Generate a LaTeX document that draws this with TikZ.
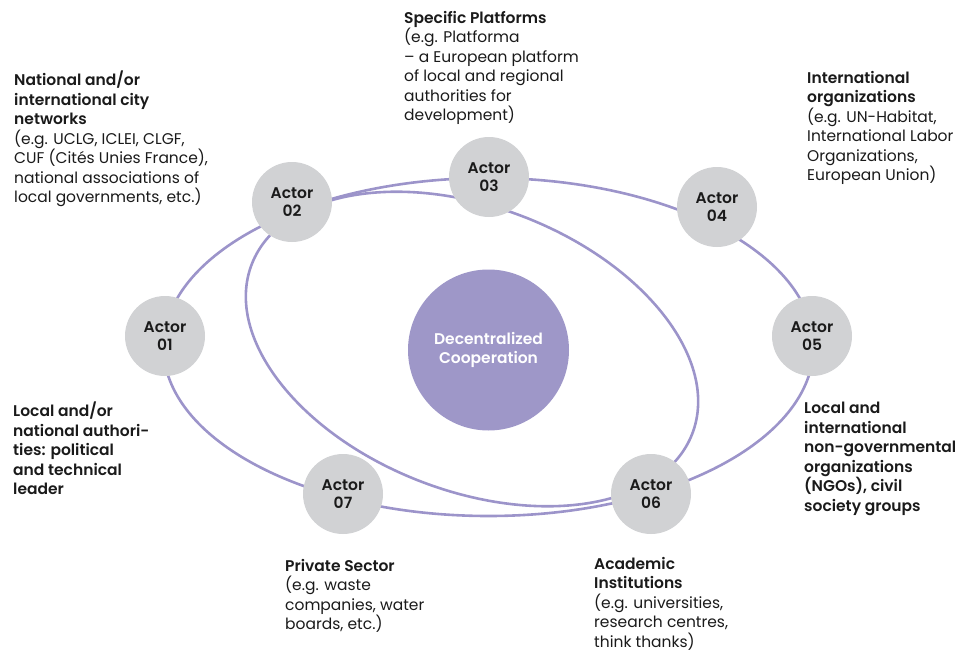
\documentclass[tikz,border=0pt]{standalone}
\usepackage{fontspec}
\setmainfont{Poppins}[BoldFont={Poppins SemiBold}]
\definecolor{lav}{RGB}{156,148,202}
\definecolor{lavfill}{RGB}{158,151,200}
\definecolor{actgray}{RGB}{209,210,212}
\definecolor{ink}{RGB}{26,26,26}
\newcommand\hdr[1]{{\bfseries #1}}
\begin{document}
\begin{tikzpicture}[x=1pt,y=-1pt,
 orbit/.style={draw=lav,line width=2.6pt},
 actor/.style={circle,fill=actgray,minimum size=80pt,inner sep=0pt,align=center,font=\bfseries\fontsize{15.5}{18.5}\selectfont,text=ink},
 core/.style={circle,fill=lavfill,minimum size=161pt,inner sep=0pt,align=center,text=white,font=\bfseries\fontsize{15.5}{19}\selectfont},
 desc/.style={anchor=north west,align=left,inner sep=0pt,text=ink,font=\fontsize{15.5}{19.5}\selectfont}]
\useasboundingbox (0,0) rectangle (978,653);
\draw[orbit] (488.5,347) ellipse [x radius=325, y radius=169];
\draw[orbit, rotate around={-21:(472,349)}] (472,349) ellipse [x radius=236, y radius=142];
\node[core] (core) at (488.5,350) {Decentralized\\Cooperation};
\node[actor] (a1) at (165,336) {Actor\\01};
\node[actor] (a2) at (292,202) {Actor\\02};
\node[actor] (a3) at (489,177) {Actor\\03};
\node[actor] (a4) at (717,207) {Actor\\04};
\node[actor] (a5) at (812,336) {Actor\\05};
\node[actor] (a6) at (651,494) {Actor\\06};
\node[actor] (a7) at (343,494) {Actor\\07};
\node[desc] (t2) at (14,71) {\hdr{National and/or}\\\hdr{international city}\\\hdr{networks}\\(e.g. UCLG, ICLEI, CLGF,\\CUF (Cités Unies France),\\national associations of\\local governments, etc.)};
\node[desc] (t3) at (404,11) {\hdr{Specific Platforms}\\(e.g. Platforma\\– a European platform\\of local and regional\\authorities for\\development)};
\node[desc] (t4) at (807,71) {\hdr{International}\\\hdr{organizations}\\(e.g. UN-Habitat,\\International Labor\\Organizations,\\European Union)};
\node[desc] (t1) at (13,402) {\hdr{Local and/or}\\\hdr{national authori-}\\\hdr{ties: political}\\\hdr{and technical}\\\hdr{leader}};
\node[desc] (t5) at (804,402) {\hdr{Local and}\\\hdr{international}\\\hdr{non-governmental}\\\hdr{organizations}\\\hdr{(NGOs), civil}\\\hdr{society groups}};
\node[desc] (t7) at (285,559) {\hdr{Private Sector}\\(e.g. waste\\companies, water\\boards, etc.)};
\node[desc] (t6) at (594,557) {\hdr{Academic}\\\hdr{Institutions}\\(e.g. universities,\\research centres,\\think thanks)};
\end{tikzpicture}
\end{document}
